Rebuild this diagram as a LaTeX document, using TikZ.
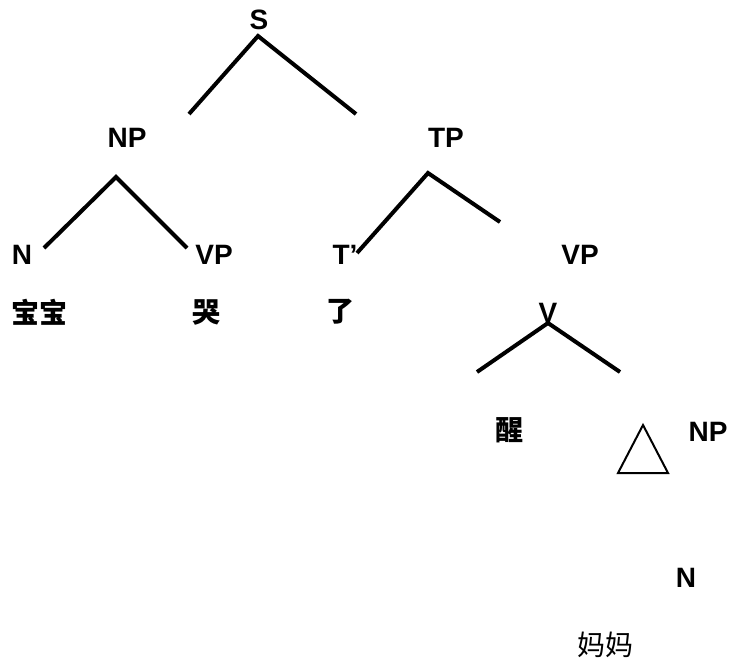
\documentclass[tikz,border=0pt]{standalone}
\usepackage{fontspec}
\setmainfont{Liberation Sans}
\newfontfamily\cjk{Noto Sans CJK SC}
\usetikzlibrary{positioning}

\begin{document}
\begin{tikzpicture}[x=0.75pt,y=-0.75pt]
	\useasboundingbox (0,0) rectangle (730,664);
	\begin{scope}[every node/.style={inner sep=0pt,font=\fontsize{21}{24}\selectfont\bfseries}]
		\node (S) at (259,20) {S};
		\node (NP) at (127,138) {NP};
		\node (TP) at (446,138) {TP};
		\node (N) at (22,255) {N};
		\node (VPa) at (214,255) {VP};
		\node (Tbar) at (345,255) {T’};
		\node (VPb) at (580,255) {VP};
		\node[font=\fontsize{21}{24}\cjk\bfseries] (baobao) at (40,312) {宝宝};
		\node[font=\fontsize{21}{24}\cjk\bfseries] (ku) at (206,312) {哭};
		\node[font=\fontsize{21}{24}\cjk\bfseries] (le) at (340,312) {了};
		\node (V) at (548,313) {V};
		\node[font=\fontsize{21}{24}\cjk\bfseries] (xing) at (509,430) {醒};
		\node (NPb) at (708,432) {NP};
		\node (Nb) at (686,578) {N};
		\node[font=\fontsize{21}{24}\cjk] (mama) at (605,645) {妈妈};
	\end{scope}

	% branch points and loose ends
	\coordinate (Stop) at (258,36);
	\coordinate (Sleft) at (189,114);
	\coordinate (Sright) at (356,114);
	\coordinate (NPtop) at (116,177);
	\coordinate (NPleft) at (44,248);
	\coordinate (NPright) at (187,248);
	\coordinate (TPtop) at (428,173);
	\coordinate (TPleft) at (357,253);
	\coordinate (TPright) at (500,222);
	\coordinate (Vtop) at (548,323);
	\coordinate (Vleft) at (477,372);
	\coordinate (Vright) at (620,372);
	\coordinate (triTop) at (643,425);
	\coordinate (triLeft) at (618,473);
	\coordinate (triRight) at (668,473);

	\begin{scope}[line width=3pt]
	\draw (Sleft) -- (Stop) -- (Sright);
	\draw (NPleft) -- (NPtop) -- (NPright);
	\draw (TPleft) -- (TPtop) -- (TPright);
	\draw (Vleft) -- (Vtop) -- (Vright);
	\end{scope}
	\draw[line width=1.5pt] (triTop) -- (triLeft) -- (triRight) -- cycle;
\end{tikzpicture}
\end{document}
